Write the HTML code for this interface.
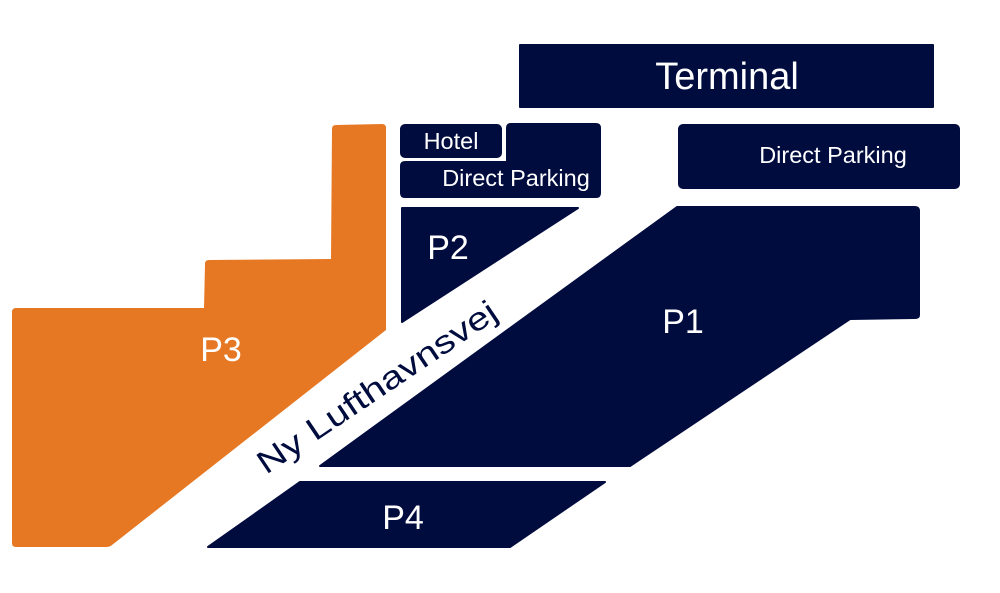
<!DOCTYPE html>
<html><head><meta charset="utf-8"><style>
html,body{margin:0;padding:0;background:#fff;}
svg{display:block;}
text{font-family:"Liberation Sans",Arial,sans-serif;}
</style></head><body>
<svg width="1000" height="593" viewBox="0 0 1000 593" xmlns="http://www.w3.org/2000/svg">
<g fill="#000b3e" stroke="#000b3e" stroke-width="2" stroke-linejoin="round">
<rect x="520" y="45" width="413" height="62"/>
<rect x="679" y="125" width="280" height="63" rx="4"/>
<rect x="401" y="125" width="100" height="32" rx="4"/>
<path d="M507,128 Q507,124 511,124 L596,124 Q600,124 600,128 L600,193 Q600,197 596,197 L405,197 Q401,197 401,193 L401,166 Q401,162 405,162 L507,162 Z"/>
<path d="M402,208 L578,208 L402,322 Z"/>
<path d="M677,207 L915,207 Q919,207 919,211 L919,315 Q919,318 915,318 L850,319 L630,466 L320,466 Z"/>
<path d="M300,482 L605,482 L510,547 L208,547 Z"/>
</g>
<path d="M12,312 Q12,308 16,308 L204,308 L205,264 Q205,260 209,260 L331,259 L332,129 Q332,125 336,125 L382,124 Q386,124 386,128 L386,330 L112,545 Q110,547 106,547 L16,547 Q12,547 12,543 Z" fill="#e77823"/>
<g fill="#fff">
<text x="727" y="89" font-size="38" text-anchor="middle">Terminal</text>
<text x="833" y="163" font-size="23.5" text-anchor="middle">Direct Parking</text>
<text x="451" y="149" font-size="23.5" text-anchor="middle">Hotel</text>
<text x="516" y="186" font-size="23.5" text-anchor="middle">Direct Parking</text>
<text x="448" y="259" font-size="34" text-anchor="middle">P2</text>
<text x="683" y="333" font-size="34" text-anchor="middle">P1</text>
<text x="221" y="361" font-size="34" text-anchor="middle">P3</text>
<text x="403" y="529" font-size="34" text-anchor="middle">P4</text>
</g>
<text x="0" y="0" font-size="32" fill="#000b3e" transform="translate(266,475) rotate(-34)" textLength="282" lengthAdjust="spacingAndGlyphs">Ny Lufthavnsvej</text>
</svg>
</body></html>
